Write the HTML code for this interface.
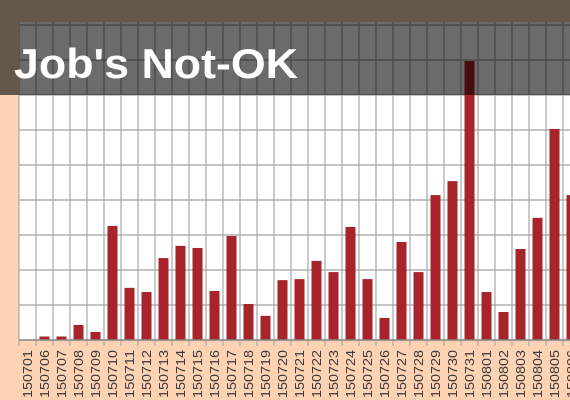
<!DOCTYPE html>
<html><head><meta charset="utf-8"><style>
html,body{margin:0;padding:0;background:#fdd3b3;}
svg{display:block;}
</style></head><body>
<svg id="chart" width="570" height="400" xmlns="http://www.w3.org/2000/svg">
<rect x="0" y="0" width="570" height="400" fill="#fdd3b3"/>
<rect x="19" y="22" width="551" height="318" fill="#ffffff"/>
<g id="grid"></g>
<g id="bars"></g>
<line x1="19" y1="340" x2="570" y2="340" stroke="#888" stroke-width="1.5"/>
<g id="labels"></g>
<rect x="0" y="22" width="570" height="73" fill="rgba(0,0,0,0.58)"/>
<rect x="0" y="0" width="570" height="22" fill="#65574a"/>
<rect x="0" y="22" width="19" height="73" fill="#65574a"/>
<text x="14" y="78" font-family="Liberation Sans, sans-serif" font-weight="bold" font-size="42" fill="#ffffff" textLength="284" lengthAdjust="spacingAndGlyphs">Job's Not-OK</text>
</svg>
<script>
const categories = ["150701","150706","150707","150708","150709","150710","150711","150712","150713","150714","150715","150716","150717","150718","150719","150720","150721","150722","150723","150724","150725","150726","150727","150728","150729","150730","150731","150801","150802","150803","150804","150805","150806"];
const values = [0,0.1,0.1,0.43,0.23,3.26,1.49,1.37,2.34,2.69,2.63,1.4,2.97,1.03,0.69,1.71,1.74,2.26,1.94,3.23,1.74,0.63,2.8,1.94,4.14,4.54,7.97,1.37,0.8,2.6,3.49,6.03,4.14];
const yTicks = [0,1,2,3,4,5,6,7,8,9];

const NS = "http://www.w3.org/2000/svg";
const x0 = 19, step = 17, y0 = 340, unit = 35;
function xPos(i){ return x0 + i*step; }
function yPos(v){ return y0 - v*unit; }

const grid = document.getElementById('grid');
yTicks.forEach(t => {
  const l = document.createElementNS(NS,'line');
  
  
  l.setAttribute('x1',x0); l.setAttribute('x2',570);
  l.setAttribute('y1',yPos(t)); l.setAttribute('y2',yPos(t));
  l.setAttribute('stroke','#a0a0a0'); l.setAttribute('stroke-width','1.2');
  grid.appendChild(l);
});
for (let i=0;i<=categories.length;i++){
  const l = document.createElementNS(NS,'line');
  
  
  l.setAttribute('x1',xPos(i)); l.setAttribute('x2',xPos(i));
  l.setAttribute('y1',22); l.setAttribute('y2',346);
  l.setAttribute('stroke','#a8a8a8'); l.setAttribute('stroke-width','1.2');
  grid.appendChild(l);
}
const bars = document.getElementById('bars');
const labels = document.getElementById('labels');
categories.forEach((c,i) => {
  const v = values[i];
  const cx = xPos(i) + step/2;
  if (v > 0) {
    const r = document.createElementNS(NS,'rect');
    
    
    r.setAttribute('x',cx-5); r.setAttribute('width',10);
    r.setAttribute('y',yPos(v)); r.setAttribute('height',y0-yPos(v));
    r.setAttribute('fill','#a8232a');
    bars.appendChild(r);
  }
  const t = document.createElementNS(NS,'text');
  
  
  t.setAttribute('transform','translate('+(cx+4.5)+',350) rotate(-90)');
  t.setAttribute('text-anchor','end');
  t.setAttribute('font-family','Liberation Sans, sans-serif');
  t.setAttribute('font-size','13');
  t.setAttribute('fill','#3a3a3a');
  t.setAttribute('textLength','48');
  t.setAttribute('lengthAdjust','spacingAndGlyphs');
  t.textContent = c;
  labels.appendChild(t);
});
</script>
</body></html>
